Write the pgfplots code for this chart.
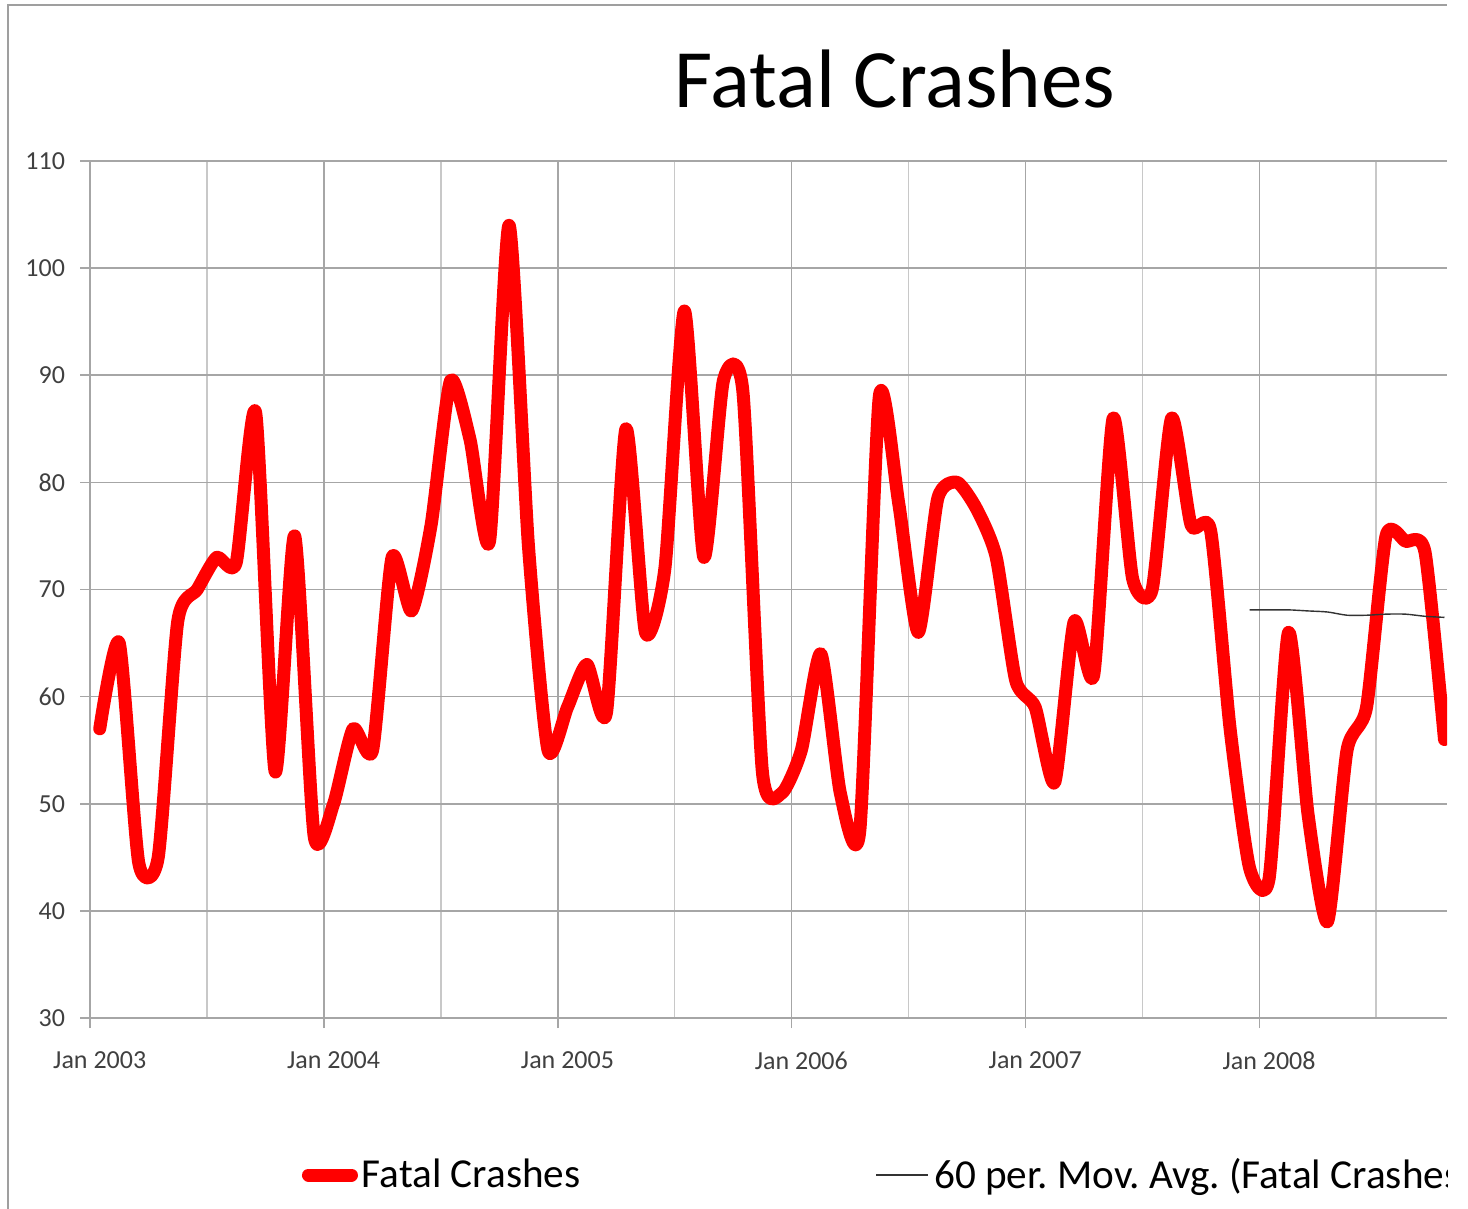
\documentclass[border=0pt]{standalone}
\usepackage{fontspec}
\setmainfont{Carlito}
\usepackage{pgfplots}
\pgfplotsset{compat=1.18}
\usepackage{pgfplotstable}
\frenchspacing

% month index: 0 = Jan 2003
\pgfplotstableread{
i v
0 57
1 65
2 44.5
3 45
4 67
5 70
6 73
7 72.5
8 86.5
9 53
10 75
11 47
12 50
13 57
14 55
15 73
16 68
17 76
18 89.5
19 84
20 74.5
21 104
22 74
23 55
24 59
25 63
26 58.5
27 85
28 66
29 72
30 96
31 73
32 89.5
33 88.5
34 53
35 51
36 55
37 64
38 51
39 47.5
40 88
41 78
42 66
43 78.5
44 80
45 77.5
46 73
47 61.5
48 59
49 52
50 67
51 62
52 86
53 71
54 70
55 86
56 76
57 75.5
58 57
59 44
60 43
61 66
62 49
63 39
64 55
65 59
66 75
67 74.5
68 73.5
69 56
}\fatal

\pgfplotstableread{
i v
59 68.1
60 68.1
61 68.1
62 68.0
63 67.9
64 67.6
65 67.6
66 67.7
67 67.7
68 67.5
69 67.4
}\mavg

\definecolor{ticktext}{HTML}{404040}
\definecolor{gridmaj}{HTML}{A6A6A6}
\definecolor{gridmin}{HTML}{C8C8C8}

\begin{document}
\begin{tikzpicture}
\useasboundingbox (0pt,0pt) rectangle (734pt,-604.5pt);
\fill[white] (0pt,0pt) rectangle (734pt,-604.5pt);
\clip (0pt,0pt) rectangle (723.5pt,-604.5pt);
\draw[gray!75, line width=0.9pt] (4pt,-604.5pt) -- (4pt,-2.5pt) -- (723.5pt,-2.5pt);
\node[anchor=base, font=\fontsize{41.5}{46}\selectfont] at (447.5pt,-54pt) {Fatal Crashes};
\begin{axis}[
  at={(45pt,-509pt)}, anchor=south west,
  scale only axis, width=678.5pt, height=428.5pt,
  xmin=-0.5, xmax=69.13, ymin=30, ymax=110,
  axis lines*=left, axis line style={gridmaj, line width=0.8pt, -},
  xtick={-0.5,11.5,23.5,35.5,47.5,59.5},
  xticklabels={Jan 2003,Jan 2004,Jan 2005,Jan 2006,Jan 2007,Jan 2008},
  minor xtick={5.5,17.5,29.5,41.5,53.5,65.5},
  ytick={30,40,...,110},
  xmajorgrids, xminorgrids, ymajorgrids,
  major grid style={gridmaj, line width=0.8pt},
  minor grid style={gridmin, line width=0.8pt},
  tick align=outside, major tick length=5pt, minor tick length=0pt,
  tick style={gridmaj, line width=0.8pt},
  /pgf/number format/assume math mode=true,
  ticklabel style={font=\fontsize{13}{15}\selectfont, text=ticktext},
  xticklabel style={xshift=4.87pt, yshift=-8.5pt},
  yticklabel style={xshift=-4pt},
  legend columns=2,
  legend cell align=left,
  legend style={draw=none, fill=none, at={(0.1562,-0.1832)}, anchor=west,
    inner sep=0pt, outer sep=0pt,
    nodes={inner sep=0pt, font=\fontsize{20.6}{24}\selectfont},
    /tikz/every odd column/.append style={column sep=2pt},
    /tikz/every even column/.append style={column sep=147.5pt}},
]
\addplot[red, line width=6.5pt, smooth, tension=0.38, line cap=round, line join=round,
  legend image code/.code={\path[draw=none, fill=none] (0pt,-3pt) rectangle (28pt,3pt);
    \draw[red, line width=6.5pt, line cap=round] (3.25pt,0pt) -- (24.75pt,0pt);}]
  table[x=i, y=v] {\fatal};
\addlegendentry{Fatal Crashes}
\addplot[black!80, line width=0.7pt, smooth,
  legend image code/.code={\path[draw=none, fill=none] (0pt,-3pt) rectangle (27pt,3pt);
    \draw[black!80, line width=0.6pt] (0pt,0pt) -- (26pt,0pt);}]
  table[x=i, y=v] {\mavg};
\addlegendentry{60 per. Mov. Avg. (Fatal Crashes)}
\end{axis}
\end{tikzpicture}
\end{document}
